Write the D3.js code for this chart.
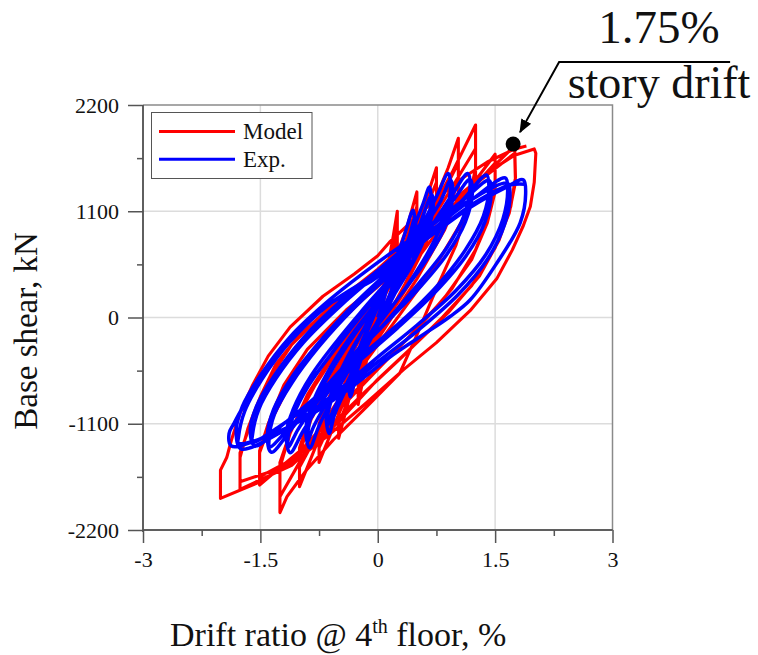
<!DOCTYPE html>
<html>
<head>
<meta charset="utf-8">
<script src="https://cdn.jsdelivr.net/npm/d3@7/dist/d3.min.js"></script>
<style>
  body { margin: 0; background: #fff; }
  text { font-family: "Liberation Serif", "Times New Roman", serif; fill: #111; }
</style>
</head>
<body>
<script>
// 刻度
var xTicks = [-3, -1.5, 0, 1.5, 3];
var xMinor = [-2.25, -0.75, 0.75, 2.25];
var yTicks = [-2200, -1100, 0, 1100, 2200];
var yMinor = [-1650, -550, 550, 1650];

// Model (red): drift %, base shear kN
var modelPts = [
  [0, 0], [0.1, 400], [0.2, 850], [0.25, 1100],
  [0.25, 800], [0.15, 450], [0.0, 50], [-0.12, -350], [-0.25, -900],
  [-0.25, -600], [-0.12, -250], [0.02, 150], [0.15, 550], [0.25, 950],
  [0.25, 700], [0.12, 300], [-0.02, -100], [-0.15, -450], [-0.25, -800],
  [-0.25, -550], [-0.15, -250], [0.0, 150], [0.2, 550], [0.38, 950], [0.5, 1300],
  [0.5, 950], [0.38, 620], [0.15, 200], [-0.1, -250], [-0.32, -700], [-0.5, -1250],
  [-0.5, -950], [-0.38, -650], [-0.15, -200], [0.1, 250], [0.32, 700], [0.5, 1150],
  [0.5, 850], [0.35, 500], [0.1, 50], [-0.15, -400], [-0.35, -800], [-0.5, -1100],
  [-0.5, -900], [-0.4, -620], [-0.2, -250], [0.05, 200], [0.3, 600], [0.55, 1050], [0.75, 1550],
  [0.75, 1150], [0.62, 800], [0.35, 350], [0.05, -100], [-0.25, -550], [-0.5, -1000], [-0.75, -1500],
  [-0.75, -1150], [-0.6, -800], [-0.3, -300], [0.0, 150], [0.3, 600], [0.55, 1000], [0.75, 1400],
  [0.75, 1050], [0.58, 700], [0.3, 250], [0.0, -200], [-0.3, -650], [-0.55, -1000], [-0.75, -1350],
  [-0.75, -1100], [-0.62, -820], [-0.35, -400], [0.0, 100], [0.35, 600], [0.7, 1150], [0.9, 1550], [1.03, 1855],
  [1.03, 1450], [0.9, 1050], [0.6, 600], [0.25, 150], [-0.15, -350], [-0.5, -850], [-0.8, -1350], [-1.0, -1751],
  [-1.0, -1400], [-0.85, -1050], [-0.55, -600], [-0.15, -50], [0.25, 450], [0.65, 1000], [1.03, 1600],
  [1.03, 1250], [0.85, 900], [0.5, 400], [0.1, -100], [-0.3, -600], [-0.7, -1100], [-1.0, -1550],
  [-1.0, -1350], [-0.88, -1050], [-0.6, -620], [-0.2, -80], [0.2, 450], [0.6, 980], [0.95, 1500], [1.25, 1993],
  [1.25, 1550], [1.15, 1150], [1.0, 750], [0.75, 300], [0.5, -180], [0.28, -578], [-0.14, -923], [-0.57, -1268], [-0.91, -1579], [-1.16, -1855], [-1.25, -2020],
  [-1.25, -1500], [-1.1, -1150], [-0.8, -700], [-0.35, -150], [0.15, 400], [0.65, 950], [1.25, 1750],
  [1.25, 1400], [1.08, 1000], [0.75, 550], [0.3, 50], [-0.15, -450], [-0.6, -1000], [-1.0, -1500], [-1.25, -1855],
  [-1.25, -1550], [-1.12, -1200], [-0.9, -800], [-0.55, -350], [-0.1, 100], [0.5, 600], [1.0, 1150], [1.5, 1690],
  [1.5, 1350], [1.42, 1050], [1.25, 700], [0.95, 300], [0.55, -80], [0.1, -450], [-0.4, -850], [-0.95, -1350], [-1.51, -1734],
  [-1.51, -1400], [-1.35, -1050], [-1.1, -650], [-0.7, -220], [-0.2, 180], [0.4, 600], [1.0, 1150], [1.5, 1600],
  [1.5, 1300], [1.4, 980], [1.2, 600], [0.85, 200], [0.4, -200], [-0.05, -580], [-0.55, -1000], [-1.05, -1450], [-1.51, -1650],
  [-1.51, -1380], [-1.4, -1100], [-1.2, -700], [-0.9, -330], [-0.4, 80], [0.2, 470], [0.9, 1050], [1.4, 1500], [1.75, 1780],
  [1.76, 1450], [1.7, 1150], [1.55, 800], [1.3, 430], [0.9, 50], [0.45, -300], [0.0, -640], [-0.5, -1080], [-1.1, -1530], [-1.76, -1779],
  [-1.76, -1400], [-1.6, -1050], [-1.4, -650], [-1.1, -280], [-0.6, 120], [0.0, 480], [0.6, 870], [1.2, 1350], [1.75, 1700],
  [1.76, 1400], [1.68, 1080], [1.5, 720], [1.2, 330], [0.8, -20], [0.35, -380], [-0.15, -760], [-0.7, -1200], [-1.2, -1550], [-1.76, -1700],
  [-1.76, -1450], [-1.66, -1150], [-1.5, -820], [-1.3, -480], [-1.0, -180], [-0.5, 180], [0.0, 500], [0.5, 870], [1.0, 1240], [1.4, 1500], [1.75, 1680], [2.0, 1745],
  [2.02, 1700], [2.0, 1400], [1.95, 1150], [1.86, 950], [1.72, 700], [1.52, 400], [1.18, 70], [0.75, -260], [0.33, -540], [-0.14, -880], [-0.6, -1200], [-1.0, -1450], [-1.5, -1700], [-2.01, -1872],
  [-2.01, -1580], [-1.93, -1450], [-1.87, -1268], [-1.76, -992], [-1.6, -700], [-1.4, -400], [-1.12, -100], [-0.7, 220], [-0.3, 450], [0.0, 640], [0.15, 780], [0.6, 1120], [1.0, 1400], [1.4, 1610], [1.75, 1745], [1.9, 1775]
];

// Exp. (blue)
var expPts = [
  [0, 0], [0.08, 200], [0.16, 420], [0.22, 620],
  [0.24, 540], [0.18, 300], [0.05, 50], [-0.1, -200], [-0.25, -520], [-0.35, -820],
  [-0.36, -700], [-0.28, -420], [-0.12, -120], [0.02, 150], [0.14, 380], [0.24, 560],
  [0.26, 480], [0.2, 250], [0.06, 20], [-0.1, -230], [-0.26, -500], [-0.38, -760],
  [-0.37, -700], [-0.3, -450], [-0.15, -150], [0.0, 150], [0.15, 450], [0.32, 800], [0.45, 1110],
  [0.47, 980], [0.4, 700], [0.25, 350], [0.05, 0], [-0.15, -320], [-0.38, -700], [-0.55, -1000], [-0.62, -1200],
  [-0.66, -1010], [-0.58, -760], [-0.4, -430], [-0.15, -80], [0.05, 200], [0.25, 520], [0.4, 830], [0.47, 1020],
  [0.49, 900], [0.42, 650], [0.25, 300], [0.03, -40], [-0.2, -360], [-0.42, -720], [-0.58, -980], [-0.64, -1120],
  [-0.65, -1080], [-0.58, -820], [-0.42, -500], [-0.2, -150], [0.0, 150], [0.2, 450], [0.42, 850], [0.58, 1180], [0.66, 1350],
  [0.68, 1220], [0.62, 950], [0.45, 600], [0.2, 230], [-0.05, -120], [-0.3, -450], [-0.55, -800], [-0.75, -1120], [-0.87, -1350],
  [-0.92, -1180], [-0.85, -920], [-0.65, -580], [-0.35, -200], [-0.05, 120], [0.25, 450], [0.5, 880], [0.69, 1270],
  [0.71, 1150], [0.63, 880], [0.42, 520], [0.15, 160], [-0.1, -170], [-0.38, -520], [-0.65, -880], [-0.82, -1130], [-0.9, -1290],
  [-0.9, -1230], [-0.84, -980], [-0.66, -650], [-0.4, -300], [-0.1, 50], [0.2, 400], [0.5, 850], [0.75, 1250], [0.9, 1490],
  [0.93, 1350], [0.86, 1050], [0.66, 700], [0.35, 300], [0.0, -80], [-0.35, -450], [-0.7, -850], [-0.95, -1170], [-1.12, -1400],
  [-1.17, -1210], [-1.08, -950], [-0.85, -600], [-0.5, -220], [-0.15, 120], [0.2, 450], [0.55, 880], [0.8, 1200], [0.93, 1420],
  [0.96, 1290], [0.88, 980], [0.65, 630], [0.3, 240], [-0.05, -120], [-0.42, -500], [-0.78, -880], [-1.02, -1160], [-1.14, -1340],
  [-1.15, -1280], [-1.08, -1020], [-0.88, -700], [-0.55, -330], [-0.15, 80], [0.25, 450], [0.65, 900], [0.95, 1270], [1.15, 1490],
  [1.18, 1360], [1.1, 1050], [0.88, 720], [0.5, 330], [0.1, -50], [-0.3, -400], [-0.75, -800], [-1.1, -1150], [-1.36, -1395],
  [-1.41, -1220], [-1.33, -950], [-1.1, -620], [-0.72, -230], [-0.3, 140], [0.15, 490], [0.6, 880], [0.95, 1200], [1.18, 1430],
  [1.21, 1300], [1.12, 990], [0.88, 650], [0.48, 260], [0.05, -100], [-0.38, -460], [-0.82, -860], [-1.15, -1160], [-1.38, -1340],
  [-1.39, -1270], [-1.32, -1000], [-1.1, -680], [-0.75, -300], [-0.3, 100], [0.2, 480], [0.7, 880], [1.1, 1230], [1.39, 1475],
  [1.42, 1350], [1.35, 1050], [1.12, 700], [0.75, 320], [0.3, -40], [-0.2, -390], [-0.7, -760], [-1.2, -1100], [-1.57, -1330],
  [-1.63, -1170], [-1.55, -920], [-1.32, -600], [-0.95, -210], [-0.5, 150], [0.05, 520], [0.6, 900], [1.1, 1220], [1.42, 1420],
  [1.45, 1290], [1.37, 990], [1.13, 640], [0.72, 250], [0.25, -110], [-0.25, -460], [-0.8, -860], [-1.28, -1140], [-1.6, -1290],
  [-1.6, -1210], [-1.52, -950], [-1.3, -630], [-0.95, -260], [-0.45, 140], [0.1, 520], [0.65, 880], [1.2, 1220], [1.63, 1445],
  [1.66, 1320], [1.6, 1020], [1.38, 650], [1.0, 280], [0.5, -80], [0.0, -410], [-0.6, -820], [-1.2, -1170], [-1.75, -1360],
  [-1.81, -1180], [-1.73, -920], [-1.5, -600], [-1.12, -200], [-0.62, 180], [-0.05, 540], [0.55, 880], [1.15, 1200], [1.66, 1390],
  [1.69, 1260], [1.62, 960], [1.4, 600], [1.02, 230], [0.52, -130], [0.0, -460], [-0.62, -870], [-1.25, -1180], [-1.78, -1300],
  [-1.78, -1240], [-1.7, -970], [-1.48, -640], [-1.12, -250], [-0.6, 150], [0.0, 460], [0.6, 800], [1.2, 1150], [1.62, 1340], [1.86, 1425],
  [1.89, 1280], [1.82, 980], [1.52, 561], [1.18, 181], [0.92, 8], [0.54, -199], [0.16, -406], [-0.3, -700], [-0.9, -1030], [-1.45, -1240], [-1.87, -1330],
  [-1.9, -1200], [-1.84, -1100], [-1.72, -923], [-1.51, -660], [-1.3, -430], [-1.12, -220], [-0.7, 100], [-0.3, 280], [-0.06, 388], [0.16, 526], [0.41, 716], [0.84, 957], [1.26, 1199], [1.69, 1372], [1.88, 1380]
];

var seriesNames = ['Model', 'Exp.'];
var seriesColors = ['#ff0000', '#0000ff'];
// 1.75% 层间位移角对应的点
var markPoint = [1.73, 1795];

var svgWidth = 758, svgHeight = 655;
var plot = { left: 143, right: 612.5, top: 105, bottom: 530 };

var svg = d3.select('body').append('svg')
  .attr('width', svgWidth)
  .attr('height', svgHeight);

var x = d3.scaleLinear().domain([-3, 3]).range([plot.left, plot.right]);
var y = d3.scaleLinear().domain([-2200, 2200]).range([plot.bottom, plot.top]);

// 网格
svg.append('g').selectAll('line')
  .data(xTicks.slice(1, -1)).enter().append('line')
  .attr('x1', d => x(d)).attr('x2', d => x(d))
  .attr('y1', plot.top).attr('y2', plot.bottom)
  .attr('stroke', '#dcdcdc').attr('stroke-width', 1.5);
svg.append('g').selectAll('line')
  .data(yTicks.slice(1, -1)).enter().append('line')
  .attr('x1', plot.left).attr('x2', plot.right)
  .attr('y1', d => y(d)).attr('y2', d => y(d))
  .attr('stroke', '#dcdcdc').attr('stroke-width', 1.5);

// 上边框和右边框
svg.append('path')
  .attr('d', `M${plot.left},${plot.top}H${plot.right}V${plot.bottom}`)
  .attr('fill', 'none').attr('stroke', '#8a8a8a').attr('stroke-width', 1.5);

// 曲线
var line = d3.line().x(d => x(d[0])).y(d => y(d[1]));
svg.append('path')
  .datum(modelPts)
  .attr('d', line)
  .attr('fill', 'none')
  .attr('stroke', seriesColors[0])
  .attr('stroke-width', 3.1)
  .attr('stroke-linejoin', 'round');
svg.append('path')
  .datum(expPts)
  .attr('d', line.curve(d3.curveCatmullRom.alpha(0.5)))
  .attr('fill', 'none')
  .attr('stroke', seriesColors[1])
  .attr('stroke-width', 3.5)
  .attr('stroke-linejoin', 'round');

// 坐标轴
svg.append('g')
  .attr('class', 'xaxis')
  .attr('transform', `translate(0,${plot.bottom})`)
  .call(d3.axisBottom(x).tickValues(xTicks).tickSize(13).tickPadding(8).tickFormat(d3.format('')));
svg.append('g')
  .attr('class', 'yaxis')
  .attr('transform', `translate(${plot.left},0)`)
  .call(d3.axisLeft(y).tickValues(yTicks).tickSize(15).tickPadding(9).tickFormat(d3.format('')));
svg.append('g')
  .attr('class', 'xaxis')
  .attr('transform', `translate(0,${plot.bottom})`)
  .call(d3.axisBottom(x).tickValues(xMinor).tickSize(6).tickFormat(''));
svg.append('g')
  .attr('class', 'yaxis')
  .attr('transform', `translate(${plot.left},0)`)
  .call(d3.axisLeft(y).tickValues(yMinor).tickSize(6).tickFormat(''));
svg.selectAll('.domain, .tick line').attr('stroke', '#555').attr('stroke-width', 1.5);
svg.selectAll('.xaxis .domain').attr('d', `M${plot.left},0H${plot.right}`);
svg.selectAll('.yaxis .domain').attr('d', `M0,${plot.bottom + 2}V${plot.top}`);
svg.selectAll('.tick text')
  .attr('font-size', 22)
  .attr('fill', '#111')
  .text(function () { return d3.select(this).text().replace('−', '-'); });

// 轴标题
svg.append('text')
  .attr('transform', 'translate(37,331) rotate(-90)')
  .attr('text-anchor', 'middle')
  .attr('font-size', 33)
  .text('Base shear, kN');
var xt = svg.append('text')
  .attr('x', 170).attr('y', 646)
  .attr('font-size', 34);
xt.append('tspan').text('Drift ratio @ 4');
xt.append('tspan').attr('font-size', 20).attr('dy', -13).text('th');
xt.append('tspan').attr('dy', 13).text(' floor, %');

// 图例
var lg = svg.append('g');
lg.append('rect')
  .attr('x', 151.5).attr('y', 112.5).attr('width', 160.5).attr('height', 66)
  .attr('fill', '#fff').attr('stroke', '#555').attr('stroke-width', 1);
seriesNames.forEach(function (name, i) {
  var yy = 131.5 + i * 27.7;
  lg.append('line')
    .attr('x1', 159).attr('x2', 235).attr('y1', yy).attr('y2', yy)
    .attr('stroke', seriesColors[i]).attr('stroke-width', 3);
  lg.append('text')
    .attr('x', 243).attr('y', yy + 7.8)
    .attr('font-size', 23)
    .text(name);
});

// 标注点和箭头
var px = x(markPoint[0]), py = y(markPoint[1]);
svg.append('circle').attr('cx', px).attr('cy', py).attr('r', 7.5).attr('fill', '#000');
svg.append('defs').append('marker')
  .attr('id', 'arr').attr('viewBox', '0 0 10 10')
  .attr('refX', 9).attr('refY', 5)
  .attr('markerWidth', 7).attr('markerHeight', 7)
  .attr('orient', 'auto')
  .append('path').attr('d', 'M0,1L10,5L0,9z').attr('fill', '#000');
svg.append('path')
  .attr('d', `M${px + 217},62H${px + 46}L${px + 7},${py - 12}`)
  .attr('fill', 'none').attr('stroke', '#000').attr('stroke-width', 2)
  .attr('marker-end', 'url(#arr)');
svg.append('text')
  .attr('x', 659).attr('y', 43)
  .attr('text-anchor', 'middle')
  .attr('font-size', 47)
  .text('1.75%');
svg.append('text')
  .attr('x', 659).attr('y', 98)
  .attr('text-anchor', 'middle')
  .attr('font-size', 46)
  .text('story drift');
</script>
</body>
</html>
